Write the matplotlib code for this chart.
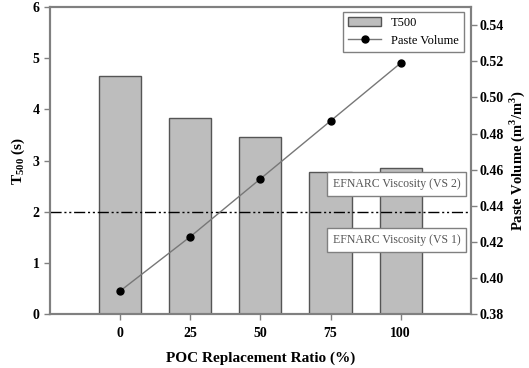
import matplotlib
matplotlib.use("Agg")
import matplotlib.pyplot as plt
from matplotlib import rc

rc('font', family='Liberation Serif')
rc('mathtext', fontset='custom', rm='Liberation Serif', bf='Liberation Serif:bold')

ratio = [0, 25, 50, 75, 100]
t500 = [4.66, 3.83, 3.46, 2.79, 2.86]
paste_volume = [0.393, 0.423, 0.455, 0.487, 0.519]
efnarc_limit = 2

grey = '#808080'

fig = plt.figure(figsize=(5.29, 3.68), dpi=100)
ax = fig.add_axes([0.0945, 0.1454, 0.7955, 0.8356])
ax2 = ax.twinx()

bars = ax.bar(ratio, t500, width=15, color='#bdbdbd', edgecolor='#555555',
              linewidth=1.0, label='T500', zorder=2)
ax.axhline(efnarc_limit, color='black', lw=1.0, dashes=[8, 2, 1.5, 2, 1.5, 2], zorder=3)

line, = ax2.plot(ratio, paste_volume, color='#777777', lw=1.0, marker='o',
                 markersize=5, markerfacecolor='black', markeredgecolor='black',
                 label='Paste Volume', zorder=4)

ax.set_xlim(-25, 125)
ax.set_ylim(0, 6)
ax2.set_ylim(0.38, 0.55)
ax.set_xticks(ratio)
ax.set_yticks(range(0, 7))
ax2.set_yticks([0.38, 0.40, 0.42, 0.44, 0.46, 0.48, 0.50, 0.52, 0.54])
ax2.set_yticklabels(['%.2f' % v for v in ax2.get_yticks()])

for a in (ax, ax2):
    for s in a.spines.values():
        s.set_color(grey)
        s.set_linewidth(1.5)
    a.tick_params(colors=grey, length=4, width=1, labelcolor='black', labelsize=10)
    for lab in a.get_xticklabels() + a.get_yticklabels():
        lab.set_fontweight('bold')
ax.tick_params(axis='x', pad=5)
ax2.tick_params(axis='y', pad=2.5)

ax.set_xlabel('POC Replacement Ratio (%)', fontsize=11, fontweight='bold', labelpad=8)
ax.set_ylabel(r'T$_\mathregular{500}$ (s)', fontsize=11, fontweight='bold', labelpad=4)
ax2.set_ylabel(r'Paste Volume (m$^\mathregular{3}$/m$^\mathregular{3}$)', fontsize=10.5,
               fontweight='bold', labelpad=2)

box = dict(boxstyle='square,pad=0.5', facecolor='white', edgecolor=grey, lw=1)
ax.text(0.672, 0.425, 'EFNARC Viscosity (VS 2)', transform=ax.transAxes, fontsize=8.5,
        color='#555555', va='center', ha='left', bbox=box, zorder=5)
ax.text(0.672, 0.243, 'EFNARC Viscosity (VS 1)', transform=ax.transAxes, fontsize=8.5,
        color='#555555', va='center', ha='left', bbox=box, zorder=5)

leg = ax2.legend([bars, line], ['T500', 'Paste Volume'], loc='upper right',
                 bbox_to_anchor=(0.983, 0.985), borderaxespad=0, fancybox=False,
                 framealpha=1, edgecolor=grey, fontsize=9, handlelength=2.6)
leg.get_frame().set_linewidth(1)

fig.savefig('out.png', dpi=100)
